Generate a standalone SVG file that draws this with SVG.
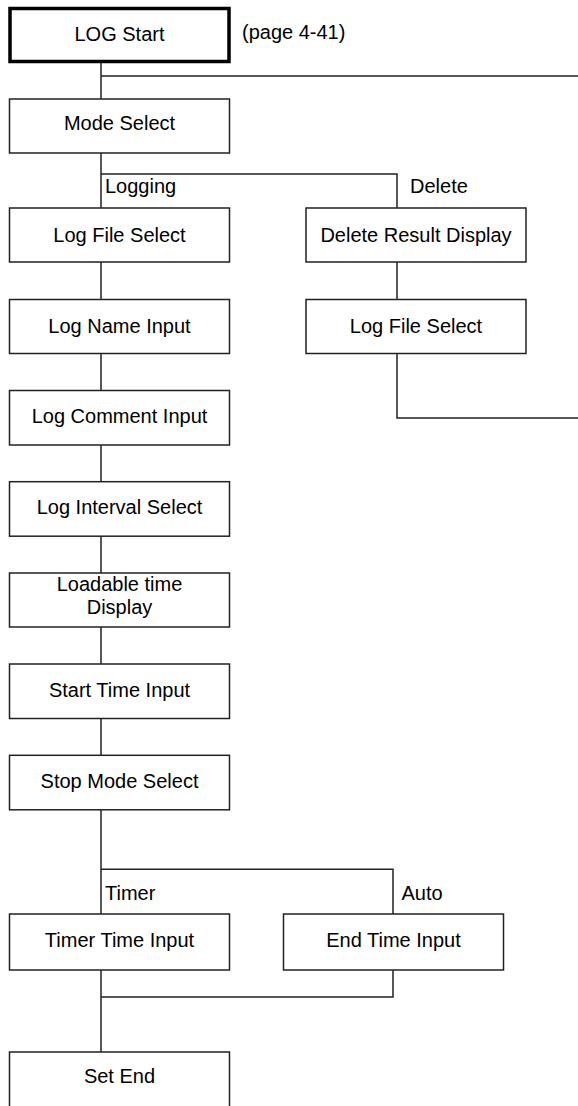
<svg xmlns="http://www.w3.org/2000/svg" width="578" height="1106" viewBox="0 0 578 1106">
<style>
.box{fill:#fff;stroke:#222;stroke-width:1.5}
.start{fill:#fff;stroke:#000;stroke-width:3.5}
.t{font-family:"Liberation Sans",Arial,sans-serif;font-size:20px;fill:#000;text-anchor:middle}
.l{font-family:"Liberation Sans",Arial,sans-serif;font-size:20px;fill:#000}
.c{fill:none;stroke:#222;stroke-width:1.5}
</style>
<rect width="578" height="1106" fill="#fff"/>
<g id="connectors">
<path class="c" d="M101 63 V99 M101 76 H578"/>
<path class="c" d="M101 153 V208 M101 174 H397 V208"/>
<path class="c" d="M101 262 V299.5 M101 353.5 V390.5 M101 445 V481.7 M101 536.2 V573 M101 627 V664 M101 718.5 V755.3"/>
<path class="c" d="M397 262 V299.5 M397 353.5 V418 H578"/>
<path class="c" d="M101 809.8 V914 M101 869.3 H393 V914"/>
<path class="c" d="M101 970 V1052 M393 970 V997 H101"/>
</g>
<g id="n-start"><rect class="start" x="10" y="8.5" width="219" height="53"/><text class="t" x="119.5" y="40.5">LOG Start</text></g>
<text class="l" x="242" y="38.5">(page 4-41)</text>
<g id="n-mode"><rect class="box" x="9.5" y="99" width="220" height="54"/><text class="t" x="119.5" y="130">Mode Select</text></g>
<text class="l" x="105" y="193">Logging</text>
<text class="l" x="410" y="193">Delete</text>
<g id="n-logfile"><rect class="box" x="9.5" y="208" width="220" height="54"/><text class="t" x="119.5" y="241.5">Log File Select</text></g>
<g id="n-logname"><rect class="box" x="9.5" y="299.5" width="220" height="54"/><text class="t" x="119.5" y="333">Log Name Input</text></g>
<g id="n-comment"><rect class="box" x="9.5" y="390.5" width="220" height="54.5"/><text class="t" x="119.5" y="422.5">Log Comment Input</text></g>
<g id="n-interval"><rect class="box" x="9.5" y="481.7" width="220" height="54.5"/><text class="t" x="119.5" y="514">Log Interval Select</text></g>
<g id="n-loadable"><rect class="box" x="9.5" y="573" width="220" height="54"/><text class="t" x="119.5" y="590.5">Loadable time</text><text class="t" x="119.5" y="613.5">Display</text></g>
<g id="n-starttime"><rect class="box" x="9.5" y="664" width="220" height="54.5"/><text class="t" x="119.5" y="697">Start Time Input</text></g>
<g id="n-stopmode"><rect class="box" x="9.5" y="755.3" width="220" height="54.5"/><text class="t" x="119.5" y="788">Stop Mode Select</text></g>
<text class="l" x="105" y="899.5">Timer</text>
<text class="l" x="401.5" y="899.5">Auto</text>
<g id="n-timer"><rect class="box" x="9.5" y="914" width="220" height="56"/><text class="t" x="119.5" y="947">Timer Time Input</text></g>
<g id="n-endtime"><rect class="box" x="283.5" y="914" width="220" height="56"/><text class="t" x="393.5" y="947">End Time Input</text></g>
<g id="n-setend"><rect class="box" x="9.5" y="1052" width="220" height="56"/><text class="t" x="119.5" y="1083.3">Set End</text></g>
<g id="n-delresult"><rect class="box" x="306" y="208" width="220" height="54"/><text class="t" x="416" y="241.5">Delete Result Display</text></g>
<g id="n-dellogfile"><rect class="box" x="306" y="299.5" width="220" height="54"/><text class="t" x="416" y="333">Log File Select</text></g>
</svg>
